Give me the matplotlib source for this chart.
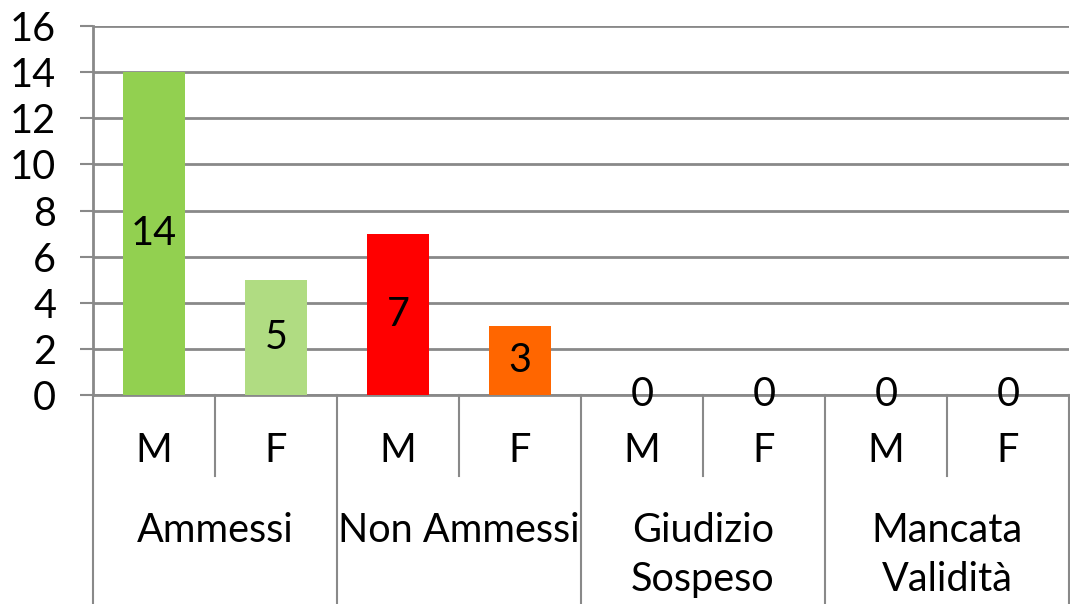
import numpy as np
import matplotlib.pyplot as plt
from matplotlib.transforms import blended_transform_factory

plt.rcParams['font.family'] = ['Lato', 'DejaVu Sans']

groups = ['Ammessi', 'Non Ammessi', 'Giudizio\nSospeso', 'Mancata\nValidità']
sexes = ['M', 'F']
values = [14, 5, 7, 3, 0, 0, 0, 0]
colors = ['#92D050', '#B0DC82', '#FF0000', '#FF6600',
          '#92D050', '#B0DC82', '#92D050', '#B0DC82']

W, H = 1070, 604
fig = plt.figure(figsize=(W / 100, H / 100), dpi=100)
ax = fig.add_axes([93 / W, (H - 395) / H, (1069 - 93) / W, 369 / H])

fs = 28.5
n = len(values)
x = np.arange(n)
ax.bar(x, values, width=0.51, color=colors, zorder=3)

for xi, v in zip(x, values):
    ax.text(xi, v / 2, str(v), ha='center', va='center', fontsize=fs, zorder=4)

gray = '#898989'
ax.set_xlim(-0.5, n - 0.5)
ax.set_ylim(0, 16)
ax.set_yticks(range(0, 17, 2))
ax.yaxis.grid(True, color=gray, linewidth=2)
ax.set_axisbelow(True)
for s in ['top', 'right']:
    ax.spines[s].set_visible(False)
ax.spines['left'].set_color(gray)
ax.spines['left'].set_linewidth(2)
ax.spines['bottom'].set_color(gray)
ax.spines['bottom'].set_linewidth(2)
ax.tick_params(axis='y', length=9.5, width=1.5, color=gray, labelsize=fs, pad=17)
ax.set_xticks([])

# category axis: sub labels, group labels and separators
tr = blended_transform_factory(ax.transData, ax.transAxes)
for xi, lab in zip(x, sexes * len(groups)):
    ax.text(xi, -55 / 369, lab, transform=tr, ha='center', va='center', fontsize=fs)

for i in range(n + 1):
    xb = i - 0.5
    depth = 209 / 369 if i % 2 == 0 else 81 / 369
    ax.plot([xb, xb], [0, -depth], transform=tr, color=gray, lw=1.5, clip_on=False)

for gi, g in enumerate(groups):
    for li, line in enumerate(g.split('\n')):
        ax.text(2 * gi + 0.5, -(135 + 50 * li) / 369, line, transform=tr,
                ha='center', va='center', fontsize=fs)

fig.savefig('out.png', dpi=100)
